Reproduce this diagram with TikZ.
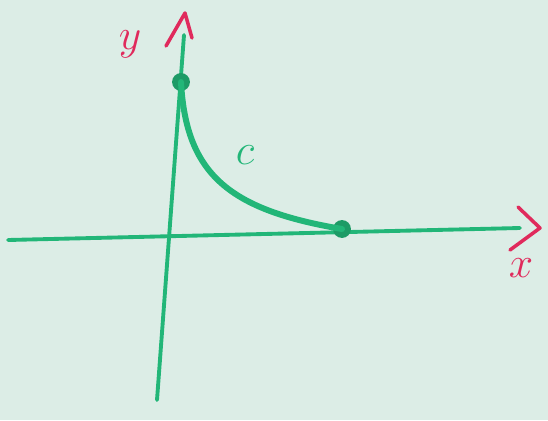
\documentclass[tikz,border=0pt]{standalone}
\usepackage{xcolor}
\usepackage{tikz}
\definecolor{boardbg}{HTML}{DCEDE6}
\definecolor{pengreen}{HTML}{22B678}
\definecolor{penred}{HTML}{E02A5C}
\tikzset{
  axis/.style={draw=pengreen,line width=2.2pt,line cap=round},
  curve/.style={draw=pengreen,line width=3.4pt,line cap=round},
  tip mark/.style={draw=penred,line width=2pt,line cap=round,line join=round},
  dot/.style={circle,fill=pengreen!85!black,inner sep=3.6pt},
  axis label/.style={text=penred,font=\Huge\itshape},
  curve label/.style={text=pengreen,font=\Huge\itshape}
}

\begin{document}
\begin{tikzpicture}[x=0.02cm,y=-0.02cm]
  \fill[boardbg] (0,0) rectangle (548,420);
  \useasboundingbox (0,0) rectangle (548,420);
  % axes
  \coordinate (xstart) at (8,240);
  \coordinate (xend) at (520,228);
  \coordinate (ystart) at (157,400);
  \coordinate (yend) at (184,35);
  \draw[axis] (xstart) -- (xend);
  \draw[axis] (ystart) -- (yend);
  % arrow marks
  \draw[tip mark] (518,207) -- (540,228) -- (510,250);
  \draw[tip mark] (166,46) -- (185,13) -- (192,38);
  \node[axis label] (xlabel) at (521,268) {$x$};
  \node[axis label] (ylabel) at (130,44) {$y$};
  % curve C
  \node[dot] (top) at (181,82) {};
  \node[dot] (bottom) at (342,229) {};
  \draw[curve] (top.center) .. controls (186,175) and (230,210) .. (bottom.center);
  \node[curve label] (clabel) at (245,155) {$c$};
\end{tikzpicture}
\end{document}
